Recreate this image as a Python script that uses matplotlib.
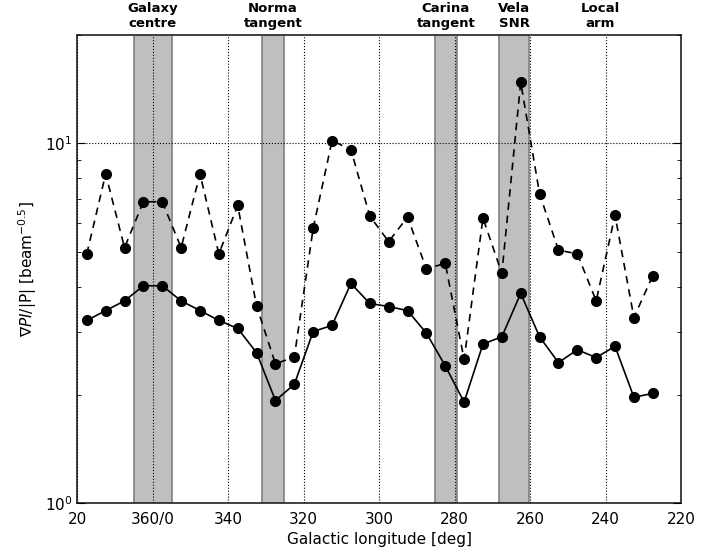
import numpy as np
import matplotlib
matplotlib.use("Agg")
import matplotlib.pyplot as plt

# Galactic longitude of each bin centre [deg]
longitude = [17.5, 12.5, 7.5, 2.5, 357.5, 352.5, 347.5, 342.5, 337.5, 332.5,
             327.5, 322.5, 317.5, 312.5, 307.5, 302.5, 297.5, 292.5, 287.5, 282.5,
             277.5, 272.5, 267.5, 262.5, 257.5, 252.5, 247.5, 242.5, 237.5, 232.5,
             227.5]

# solid series
solid_vals = [3.22, 3.43, 3.65, 4.02, 4.02, 3.65, 3.43, 3.22, 3.06, 2.62,
              1.93, 2.14, 3.00, 3.12, 4.08, 3.59, 3.52, 3.43, 2.97, 2.41,
              1.91, 2.77, 2.90, 3.83, 2.90, 2.46, 2.67, 2.54, 2.73, 1.97,
              2.02]

# dashed series
dashed_vals = [4.93, 8.22, 5.13, 6.88, 6.88, 5.13, 8.22, 4.93, 6.72, 3.53,
               2.44, 2.55, 5.81, 10.17, 9.60, 6.28, 5.33, 6.24, 4.48, 4.64,
               2.51, 6.20, 4.35, 14.77, 7.24, 5.05, 4.93, 3.65, 6.31, 3.28,
               4.29]

# shaded regions (start, end) in galactic longitude and their labels
band_starts = [5.0, 331.0, 285.3, 268.2]
band_ends = [355.0, 325.3, 279.4, 260.2]
region_labels = ["Galaxy\ncentre", "Norma\ntangent", "Carina\ntangent", "Vela\nSNR", "Local\narm"]
region_label_pos = [0.0, 328.2, 282.3, 264.2, 241.5]

tick_positions = [20, 0, 340, 320, 300, 280, 260, 240, 220]
tick_labels = ["20", "360/0", "340", "320", "300", "280", "260", "240", "220"]


def unwrap(l):
    l = np.asarray(l, dtype=float)
    return np.where(l > 180, l - 360, l)


fig = plt.figure(figsize=(7.23, 5.54), dpi=100)
ax = fig.add_axes([0.107, 0.0915, 0.835, 0.8455])

x = unwrap(longitude)

for s, e in zip(band_starts, band_ends):
    a, b = float(unwrap(s)), float(unwrap(e))
    ax.axvspan(min(a, b), max(a, b), facecolor="#bfbfbf", edgecolor="#808080",
               linewidth=1.2, zorder=1)

ax.plot(x, dashed_vals, color="black", linestyle=(0, (4.5, 3.5)), linewidth=1.2,
        marker="o", markersize=7, zorder=3)
ax.plot(x, solid_vals, color="black", linestyle="-", linewidth=1.2,
        marker="o", markersize=7, zorder=3)

ax.set_yscale("log")
ax.set_ylim(1, 20)
ax.set_xlim(20, -140)

ax.set_xticks(unwrap(tick_positions))
ax.set_xticklabels(tick_labels)

ax.grid(True, which="major", linestyle=":", color="black", linewidth=0.8, zorder=2)
ax.set_axisbelow(False)

ax.tick_params(axis="both", which="both", direction="in", top=False, right=True,
               labelsize=11)
ax.tick_params(axis="y", which="major", length=6)
ax.tick_params(axis="y", which="minor", length=3)
ax.tick_params(axis="x", which="major", length=0, pad=6)

for sp in ax.spines.values():
    sp.set_linewidth(1.3)
    sp.set_color("#333333")

ax.set_xlabel("Galactic longitude [deg]", fontsize=11)
ax.set_ylabel(r"$\nabla PI/$|P| [beam$^{-0.5}$]", fontsize=11)

for lab, pos in zip(region_labels, region_label_pos):
    ax.text(float(unwrap(pos)), 1.01, lab, transform=ax.get_xaxis_transform(),
            ha="center", va="bottom", fontsize=9.5, fontweight="bold",
            linespacing=1.2)

fig.savefig("out.png", dpi=100)
